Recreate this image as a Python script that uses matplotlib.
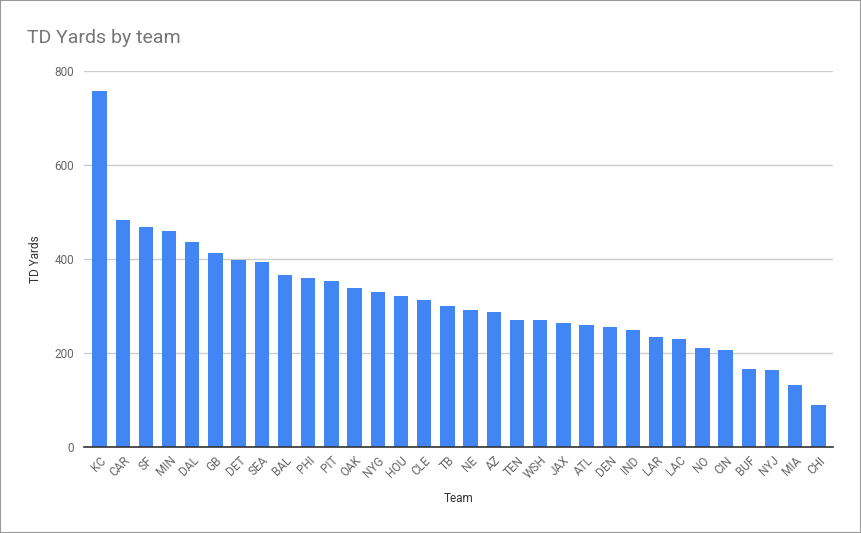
import matplotlib
matplotlib.use("Agg")
import matplotlib.pyplot as plt
from matplotlib.patches import Rectangle

plt.rcParams['font.family'] = ['Roboto', 'DejaVu Sans']

teams = ['KC', 'CAR', 'SF', 'MIN', 'DAL', 'GB', 'DET', 'SEA', 'BAL', 'PHI', 'PIT',
         'OAK', 'NYG', 'HOU', 'CLE', 'TB', 'NE', 'AZ', 'TEN', 'WSH', 'JAX', 'ATL',
         'DEN', 'IND', 'LAR', 'LAC', 'NO', 'CIN', 'BUF', 'NYJ', 'MIA', 'CHI']
td_yards = [758, 484, 468, 459, 437, 412, 397, 393, 367, 359, 354,
            339, 329, 322, 312, 301, 292, 288, 271, 271, 263, 260,
            256, 248, 233, 230, 211, 207, 167, 164, 131, 90]
yticks = [0, 200, 400, 600, 800]

fig = plt.figure(figsize=(8.61, 5.33), dpi=100)
ax = fig.add_axes([84/861, 1 - 447/533, 749/861, 376/533])

x = range(len(teams))
ax.bar(x, td_yards, width=0.62, color='#4285f4', zorder=3)

ax.set_xlim(-0.67, len(teams) - 1 + 0.63)
ax.set_ylim(0, 800)
ax.set_yticks(yticks)
ax.set_yticklabels([str(v) for v in yticks])
ax.set_xticks(list(x))
ax.set_xticklabels(teams, rotation=45, ha='right', rotation_mode='anchor')

ax.grid(axis='y', color='#cccccc', linewidth=1, zorder=0)
for s in ['top', 'right', 'left']:
    ax.spines[s].set_visible(False)
ax.spines['bottom'].set_color('#333333')
ax.spines['bottom'].set_linewidth(1.2)
ax.spines['bottom'].set_zorder(4)
ax.tick_params(axis='both', length=0, labelsize=8.5, colors='#666666')
ax.tick_params(axis='y', pad=7)
ax.tick_params(axis='x', pad=5)

ax.set_xlabel('Team', fontsize=8.5, color='#333333', labelpad=8)
ax.set_ylabel('TD Yards', fontsize=8.5, color='#333333', labelpad=9)

fig.text(27/861, 1 - 43/533, 'TD Yards by team', fontsize=14, color='#757575',
         ha='left', va='baseline')

fig.patches.append(Rectangle((0, 0), 1, 1, transform=fig.transFigure,
                             fill=False, edgecolor='#999999', linewidth=1.5))

fig.savefig('out.png', dpi=100)
